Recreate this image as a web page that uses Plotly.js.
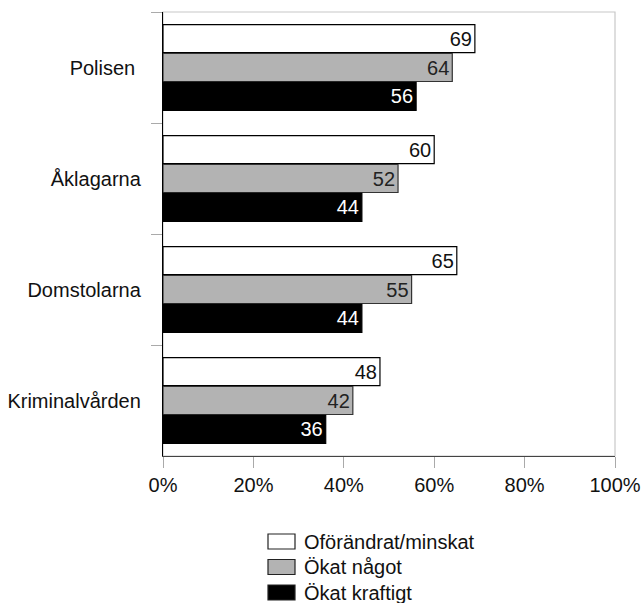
<!DOCTYPE html>
<html>
<head>
<meta charset="utf-8">
<script src="https://cdn.plot.ly/plotly-3.0.1.min.js"></script>
<style>html,body{margin:0;padding:0;background:#fff;}#chart{width:641px;height:603px;}</style>
</head>
<body>
<div id="chart"></div>
<script>
var categories = ["Polisen ", "Åklagarna", "Domstolarna", "Kriminalvården"];
var seriesNames = ["Oförändrat/minskat", "Ökat något", "Ökat kraftigt"];
var valuesUnchanged = [69, 60, 65, 48];
var valuesSome = [64, 52, 55, 42];
var valuesStrong = [56, 44, 44, 36];
var xTickValues = [0, 20, 40, 60, 80, 100];
var xTickLabels = ["0%", "20%", "40%", "60%", "80%", "100%"];

var FONT = "Liberation Sans, Arial, Helvetica, sans-serif";
var fills = ["#ffffff", "#b3b3b3", "#000000"];
var lines = ["#000000", "#333333", "#000000"];
var txtColors = ["#111111", "#222222", "#ffffff"];
var seriesValues = [valuesUnchanged, valuesSome, valuesStrong];

var data = seriesValues.map(function (vals, i) {
  return {
    type: "bar", orientation: "h", name: seriesNames[i],
    x: vals, y: categories,
    text: vals.map(String),
    textposition: "inside", insidetextanchor: "end", textangle: 0,
    constraintext: "none",
    insidetextfont: {family: FONT, size: 20, color: txtColors[i]},
    marker: {color: fills[i], line: {color: lines[i], width: 1.2}},
    hoverinfo: "skip", showlegend: false
  };
});

// custom legend (boxes + labels) below the plot, in pixel-based paper coords
var W = 641, H = 603, ML = 163, MR = 26, MT = 12, MB = 147;
var pw = W - ML - MR, ph = H - MT - MB;
function px2x(px) { return (px - ML) / pw; }
function py2y(py) { return (H - MB - py) / ph; }
var shapes = [{type: "rect", xref: "paper", yref: "paper", x0: 0, x1: 1, y0: 0, y1: 1,
               line: {color: "#c8c8c8", width: 1.2}, layer: "below"}];
var annotations = [];
seriesNames.forEach(function (nm, i) {
  var top = 534 + i * 25.5;
  shapes.push({type: "rect", xref: "paper", yref: "paper",
               x0: px2x(268), x1: px2x(295), y0: py2y(top + 15), y1: py2y(top),
               fillcolor: fills[i], line: {color: "#222", width: 1.2}});
  annotations.push({xref: "paper", yref: "paper", x: px2x(302), y: py2y(top + 7.5),
                    xanchor: "left", yanchor: "middle", showarrow: false, text: nm,
                    font: {family: FONT, size: 20, color: "#111"}});
});

var layout = {
  width: W, height: H,
  margin: {l: ML, r: MR, t: MT, b: MB, autoexpand: false},
  paper_bgcolor: "#fff", plot_bgcolor: "#fff",
  font: {family: FONT, size: 20, color: "#111"},
  barmode: "group", bargap: 0.22, bargroupgap: 0.03,
  showlegend: false,
  xaxis: {range: [0, 100], tickvals: xTickValues, ticktext: xTickLabels,
          showgrid: false, zeroline: false, showline: true, linecolor: "#444", linewidth: 1.2,
          ticks: "outside", ticklen: 11, tickcolor: "#aaa", tickwidth: 1,
          tickfont: {family: FONT, size: 20, color: "#111"}, fixedrange: true, automargin: false},
  yaxis: {autorange: "reversed", type: "category", showgrid: false, zeroline: false,
          showline: true, linecolor: "#000", linewidth: 1.2,
          ticks: "outside", tickson: "boundaries", ticklen: 11, tickcolor: "#aaa", tickwidth: 1,
          ticklabelstandoff: 17,
          tickfont: {family: FONT, size: 20, color: "#111"}, fixedrange: true, automargin: false},
  shapes: shapes,
  annotations: annotations
};
Plotly.newPlot("chart", data, layout, {displayModeBar: false, staticPlot: true});
</script>
</body>
</html>
